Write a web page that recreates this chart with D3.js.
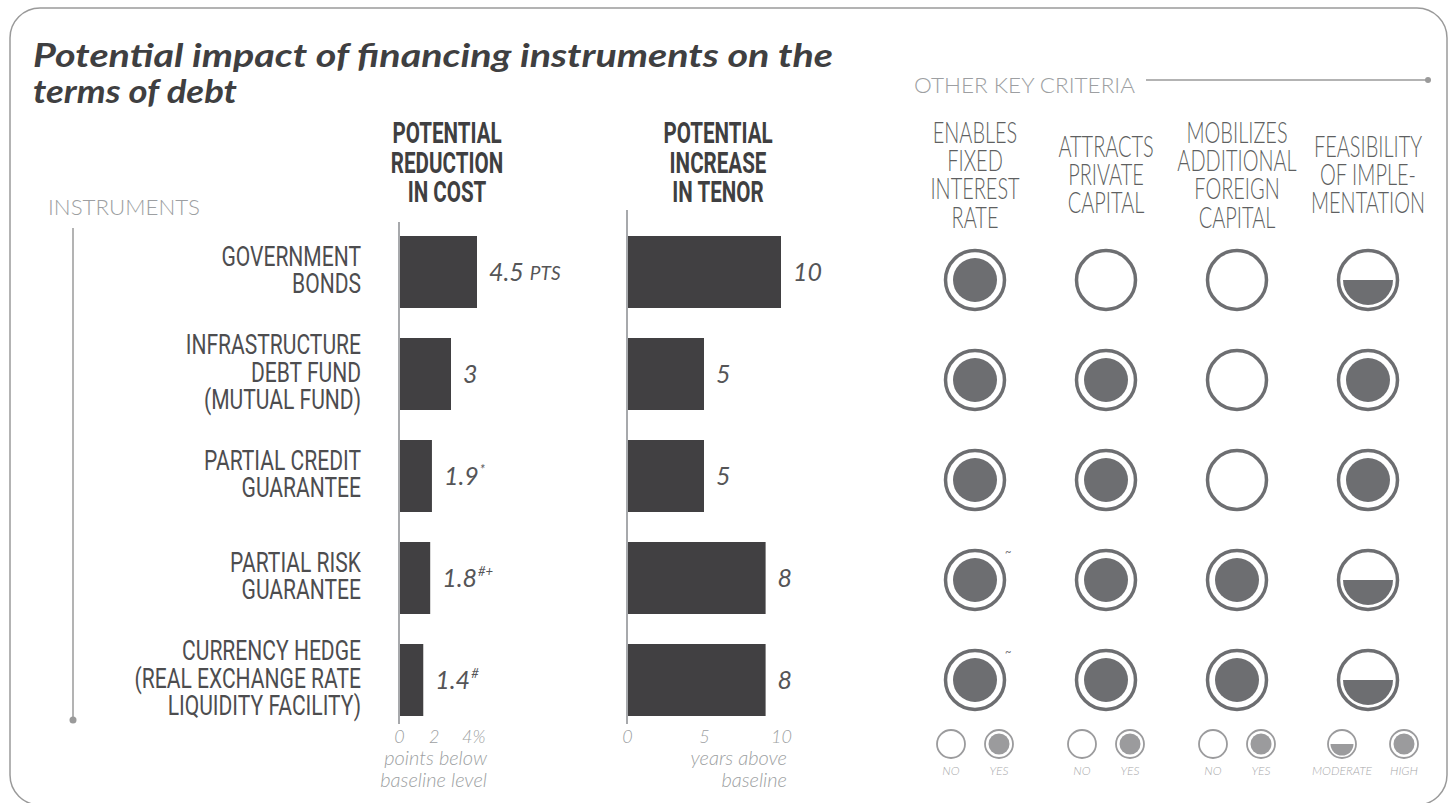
<!DOCTYPE html>
<html><head><meta charset="utf-8">
<script src="https://cdn.jsdelivr.net/npm/d3@7"></script>
<style>body{margin:0;background:#fff;} svg{display:block;}</style>
</head><body>
<svg id="chart" width="1456" height="803"></svg>
<script>
// ---------------- DATA ----------------
const instruments = ["Government bonds", "Infrastructure debt fund", "Partial credit guarantee", "Partial risk guarantee", "Currency hedge"];
const instrumentLines = [
  ["GOVERNMENT", "BONDS"],
  ["INFRASTRUCTURE", "DEBT FUND", "(MUTUAL FUND)"],
  ["PARTIAL CREDIT", "GUARANTEE"],
  ["PARTIAL RISK", "GUARANTEE"],
  ["CURRENCY HEDGE", "(REAL EXCHANGE RATE", "LIQUIDITY FACILITY)"]
];
const costValues = [4.5, 3, 1.9, 1.8, 1.4];
const costLabels = ["4.5", "3", "1.9", "1.8", "1.4"];
const costUnits = ["PTS", "", "", "", ""];
const costNotes = ["", "", "*", "#+", "#"];
const tenorValues = [10, 5, 5, 9, 9];     // bar lengths as drawn in the picture
const tenorLabels = ["10", "5", "5", "8", "8"];
const costTicks = [0, 2, 4];
const costTickLabels = ["0", "2", "4%"];
const tenorTicks = [0, 5, 10];
const tenorTickLabels = ["0", "5", "10"];
const costHeader = ["POTENTIAL", "REDUCTION", "IN COST"];
const tenorHeader = ["POTENTIAL", "INCREASE", "IN TENOR"];
const costCaption = ["points below", "baseline level"];
const tenorCaption = ["years above", "baseline"];

const criteriaNames = ["Fixed rate", "Private capital", "Foreign capital", "Feasibility"];
const criteriaHeaders = [
  ["ENABLES", "FIXED", "INTEREST", "RATE"],
  ["ATTRACTS", "PRIVATE", "CAPITAL"],
  ["MOBILIZES", "ADDITIONAL", "FOREIGN", "CAPITAL"],
  ["FEASIBILITY", "OF IMPLE-", "MENTATION"]
];
const fixedRate      = ["yes", "yes", "yes", "yes", "yes"];
const fixedRateNotes = ["", "", "", "~", "~"];
const privateCapital = ["no", "yes", "yes", "yes", "yes"];
const foreignCapital = ["no", "no", "no", "yes", "yes"];
const feasibility    = ["moderate", "high", "high", "moderate", "moderate"];
const legendPairs = [["no", "yes"], ["no", "yes"], ["no", "yes"], ["moderate", "high"]];
const legendLabels = [["NO", "YES"], ["NO", "YES"], ["NO", "YES"], ["MODERATE", "HIGH"]];

// ---------------- STYLE ----------------
const C = {dark: "#414042", title: "#3f3f41", label: "#4d4d4f", circ: "#6d6e71", light: "#9d9fa2",
           axis: "#a7a9ac", frame: "#9a9a9a", crit: "#5e5f61"};
const svg = d3.select("#chart");

function fitTo(sel, width) {
  sel.attr("textLength", width).attr("lengthAdjust", "spacingAndGlyphs");
}
// one <text> with several lines, horizontally condensed by sx around x
function multiline(parent, x, yMid, lines, step, capH, anchor, sx) {
  const g = parent.append("g").attr("transform", `translate(${x},${yMid}) scale(${sx},1)`);
  const t = g.append("text").attr("text-anchor", anchor);
  lines.forEach((ln, j) => {
    t.append("tspan").attr("x", 0).attr("y", (j - (lines.length - 1) / 2) * step + capH / 2).text(ln);
  });
  return t;
}

// frame
svg.append("rect").attr("x", 10).attr("y", 8).attr("width", 1437).attr("height", 797)
  .attr("rx", 30).attr("fill", "none").attr("stroke", C.frame).attr("stroke-width", 1.5);

// title
const title = svg.append("g").attr("font-family", "Lato").attr("font-weight", 700)
  .attr("font-style", "italic").attr("font-size", 33).attr("fill", C.title);
fitTo(title.append("text").attr("x", 33).attr("y", 67).text("Potential impact of financing instruments on the"), 800);
fitTo(title.append("text").attr("x", 33).attr("y", 103).text("terms of debt"), 204);

// section labels
const light = svg.append("g").attr("font-family", "Lato").attr("font-weight", 300).attr("fill", C.light).attr("font-size", 21);
fitTo(light.append("text").attr("x", 48).attr("y", 215).text("INSTRUMENTS"), 152);
fitTo(light.append("text").attr("x", 914).attr("y", 93).text("OTHER KEY CRITERIA"), 221);
svg.append("line").attr("x1", 1146).attr("x2", 1428).attr("y1", 80).attr("y2", 80).attr("stroke", C.frame).attr("stroke-width", 1.5);
svg.append("circle").attr("cx", 1428).attr("cy", 80).attr("r", 3).attr("fill", C.frame);
svg.append("line").attr("x1", 73).attr("x2", 73).attr("y1", 228).attr("y2", 720).attr("stroke", C.frame).attr("stroke-width", 1.5);
svg.append("circle").attr("cx", 73).attr("cy", 720).attr("r", 3.5).attr("fill", C.frame);

// scales
const y = d3.scalePoint().domain(instruments).range([272, 680]);
const xCost = d3.scaleLinear().domain([0, 4.5]).range([399, 477]);
const xTenor = d3.scaleLinear().domain([0, 10]).range([627, 781]);
const yc = d3.scalePoint().domain(instruments).range([280, 680]);
const xc = d3.scalePoint().domain(criteriaNames).range([975, 1368]);
const barH = 72;

// instrument labels
const instG = svg.append("g").attr("font-family", "Roboto").attr("font-size", 27).attr("fill", C.label);
instrumentLines.forEach((lines, i) => multiline(instG, 361, y(instruments[i]) - 2, lines, 27.5, 19, "end", 0.78));

// column headers
const hdr = svg.append("g").attr("font-family", "Roboto").attr("font-weight", 700).attr("font-size", 29).attr("fill", C.title);
multiline(hdr, 447, 162, costHeader, 30, 21, "middle", 0.71);
multiline(hdr, 718, 162, tenorHeader, 30, 21, "middle", 0.71);

// axis lines
svg.append("line").attr("x1", xCost(0)).attr("x2", xCost(0)).attr("y1", 222).attr("y2", 724).attr("stroke", C.axis).attr("stroke-width", 2);
svg.append("line").attr("x1", xTenor(0)).attr("x2", xTenor(0)).attr("y1", 210).attr("y2", 724).attr("stroke", C.axis).attr("stroke-width", 2);

// bars
svg.append("g").selectAll("rect").data(costValues).join("rect")
  .attr("x", xCost(0) + 1).attr("y", (d, i) => y(instruments[i]) - barH / 2)
  .attr("width", d => xCost(d) - xCost(0) - 1).attr("height", barH).attr("fill", C.dark);
svg.append("g").selectAll("rect").data(tenorValues).join("rect")
  .attr("x", xTenor(0) + 1).attr("y", (d, i) => y(instruments[i]) - barH / 2)
  .attr("width", d => xTenor(d) - xTenor(0) - 1).attr("height", barH).attr("fill", C.dark);

// bar value labels
const valG = svg.append("g").attr("font-family", "Lato").attr("font-style", "italic").attr("fill", "#555557").attr("font-size", 25);
costValues.forEach((v, i) => {
  const t = valG.append("text").attr("x", xCost(v) + 12).attr("y", y(instruments[i]) + 9).text(costLabels[i]);
  if (costUnits[i]) t.append("tspan").attr("font-size", 19).attr("dx", 6).attr("dy", -1).text(costUnits[i]);
  if (costNotes[i]) t.append("tspan").attr("font-size", 13).attr("dx", 1).attr("dy", -11).text(costNotes[i]);
});
tenorValues.forEach((v, i) => {
  valG.append("text").attr("x", xTenor(v) + 12).attr("y", y(instruments[i]) + 9).text(tenorLabels[i]);
});

// axes
function drawAxis(scale, ticks, labels) {
  const g = svg.append("g").attr("transform", "translate(0,726)")
    .call(d3.axisBottom(scale).tickValues(ticks).tickSize(0).tickPadding(4).tickFormat((d, i) => labels[i]));
  g.select(".domain").remove();
  g.selectAll("text").attr("font-family", "Lato").attr("font-style", "italic").attr("font-size", 18)
    .attr("fill", C.light).attr("font-weight", 300);
  return g;
}
drawAxis(xCost, costTicks, costTickLabels).selectAll("text").filter((d, i) => i === 2).attr("dx", 5);
drawAxis(xTenor, tenorTicks, tenorTickLabels);
const capG = svg.append("g").attr("font-family", "Lato").attr("font-style", "italic").attr("font-weight", 300)
  .attr("font-size", 20).attr("fill", C.light);
multiline(capG, 487, 769, costCaption, 22, 14, "end", 1);
multiline(capG, 787, 769, tenorCaption, 22, 14, "end", 1);

// criteria headers
const crit = svg.append("g").attr("font-family", "Lato").attr("font-weight", 300).attr("font-size", 28.5).attr("fill", C.crit);
criteriaHeaders.forEach((lines, k) => multiline(crit, xc(criteriaNames[k]), 175, lines, 28.2, 20.5, "middle", 0.70));

// symbols
const halfArc = r => d3.arc().innerRadius(0).outerRadius(r).startAngle(Math.PI / 2).endAngle(3 * Math.PI / 2)();
function symbol(g, kind, rOuter, rFull, rHalf, sw, color) {
  g.append("circle").attr("r", rOuter).attr("fill", "#fff").attr("stroke", color).attr("stroke-width", sw);
  if (kind === "yes" || kind === "high") g.append("circle").attr("r", rFull).attr("fill", color);
  if (kind === "moderate") g.append("path").attr("d", halfArc(rHalf)).attr("fill", color);
}
const criteriaValues = [fixedRate, privateCapital, foreignCapital, feasibility];
criteriaValues.forEach((vals, k) => {
  vals.forEach((v, i) => {
    const g = svg.append("g").attr("transform", `translate(${xc(criteriaNames[k])},${yc(instruments[i])})`);
    symbol(g, v, 29.5, 22, 25, 3.5, C.circ);
  });
});
fixedRateNotes.forEach((n, i) => {
  if (n) svg.append("text").attr("x", xc(criteriaNames[0]) + 30).attr("y", yc(instruments[i]) - 24)
    .attr("font-family", "Lato").attr("font-size", 11).attr("fill", C.circ).text(n);
});

// legend
const legendOffsets = [[-24, 24], [-24, 24], [-24, 24], [-26, 36]];
const legG = svg.append("g");
legendPairs.forEach((pair, k) => {
  pair.forEach((kind, j) => {
    const cx = xc(criteriaNames[k]) + legendOffsets[k][j];
    const g = legG.append("g").attr("transform", `translate(${cx},744)`);
    symbol(g, kind, 14, 10.5, 11.5, 1.8, "#9b9b9d");
    legG.append("text").attr("x", cx).attr("y", 775).attr("text-anchor", "middle")
      .attr("font-family", "Lato").attr("font-style", "italic").attr("font-weight", 300)
      .attr("font-size", 12).attr("fill", "#a8a8aa").text(legendLabels[k][j]);
  });
});
</script>
</body></html>
